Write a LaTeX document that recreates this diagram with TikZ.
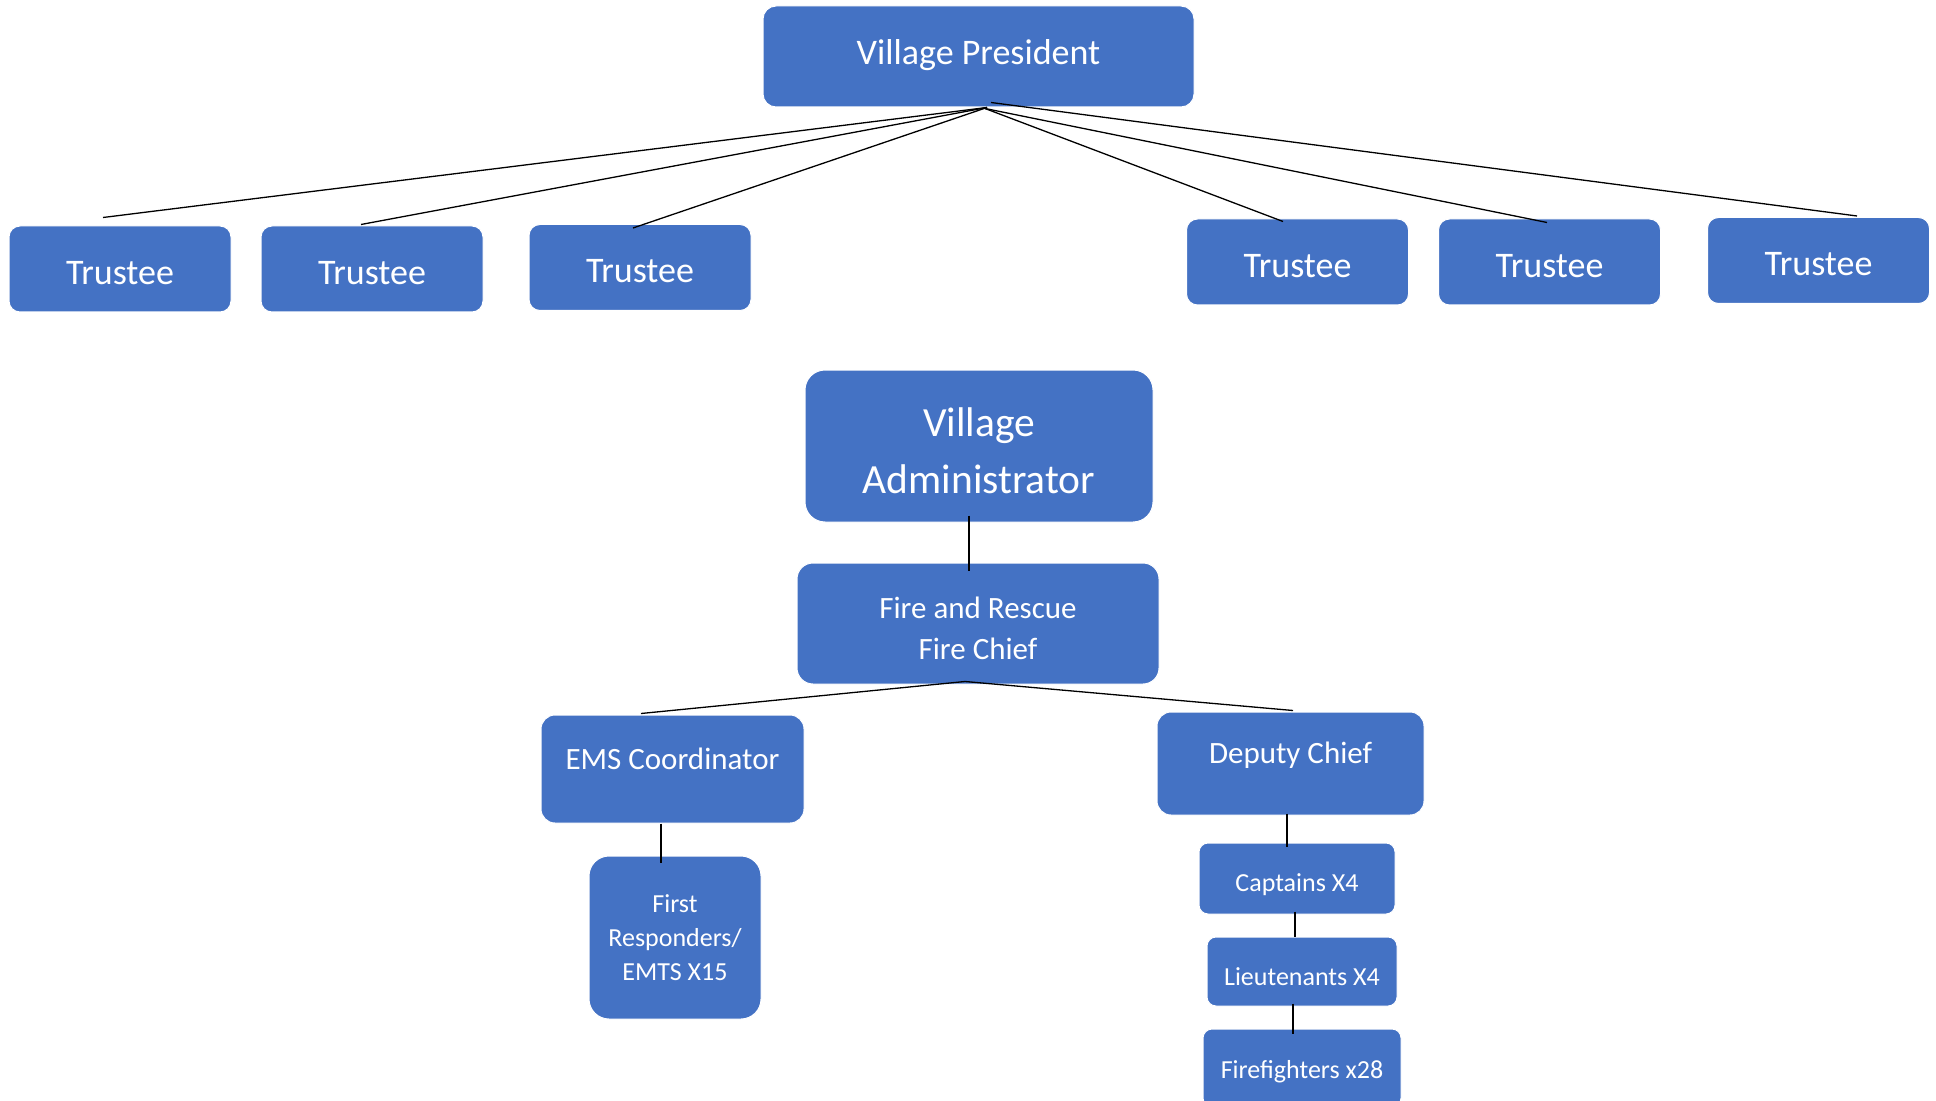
\documentclass[tikz,border=0pt]{standalone}
\usepackage{fontspec}
\setmainfont{Carlito}
\usetikzlibrary{calc}
\definecolor{boxblue}{HTML}{4472C4}
\begin{document}
\begin{tikzpicture}[x=0.5pt,y=-0.5pt,
  box/.style={fill=boxblue, draw=white, line width=0.5pt, text=white, align=center, inner sep=0pt},
  trustee/.style={box, minimum width=111pt, minimum height=43pt, rounded corners=5.5pt,
    font=\fontsize{18}{22}\selectfont, text height=15.5pt, text depth=0pt},
  small/.style={font=\fontsize{13}{17}\selectfont},
  mid/.style={font=\fontsize{15.5}{20.5}\selectfont},
  boxlabel/.style={text=white, align=center, inner sep=0pt},
  conn/.style={draw=black, line width=0.65pt}]
\useasboundingbox (0,0) rectangle (1936,1101);

% top level
\node[box, minimum width=215.5pt, minimum height=50.5pt, rounded corners=6.5pt,
  font=\fontsize{18}{22}\selectfont, text height=8.5pt, text depth=0pt] (pres) at (978.5,56.5) {Village President};

\node[trustee] (t1) at (120,269) {Trustee};
\node[trustee] (t2) at (372,269) {Trustee};
\node[trustee] (t3) at (640,267.5) {Trustee};
\node[trustee] (t4) at (1297.5,262) {Trustee};
\node[trustee] (t5) at (1549.5,262) {Trustee};
\node[trustee] (t6) at (1818.5,260.5) {Trustee};

\draw[conn] ($(pres.south)+(8.5,0)$) -- ($(t1.north)+(-17,-8)$);
\draw[conn] ($(pres.south)+(8.5,0)$) -- ($(t2.north)+(-11,-1)$);
\draw[conn] ($(pres.south)+(8.5,0)$) -- ($(t3.north)+(-7,4)$);
\draw[conn] ($(pres.south)+(6.5,1)$) -- ($(t4.north)+(-14.5,3)$);
\draw[conn] ($(pres.south)+(6.5,1)$) -- ($(t5.north)+(-2.5,4)$);
\draw[conn] ($(pres.south)+(12.5,-5)$) -- ($(t6.north)+(38.5,-1)$);

% administration
\node[box, minimum width=174pt, minimum height=76pt, rounded corners=10pt,
  label={[boxlabel, font=\fontsize{20.75}{28.5}\selectfont, yshift=-2.5pt]center:{Village\\Administrator}}] (admin) at (979,446) {};
\node[box, minimum width=181pt, minimum height=60.5pt, rounded corners=8pt,
  label={[boxlabel, mid, yshift=-2.5pt]center:{Fire and Rescue\\Fire Chief}}] (chief) at (978,623.5) {};
\draw[conn] ($(admin.south)+(-10,-7)$) -- ($(chief.north)+(-9,8)$);

\node[box, mid, minimum width=131.5pt, minimum height=54pt, rounded corners=7pt,
  text height=8pt, text depth=8pt] (ems) at (672.5,769) {EMS Coordinator};
\node[box, mid, minimum width=133.5pt, minimum height=51.5pt, rounded corners=7pt,
  text height=8pt, text depth=8pt] (deputy) at (1290.5,763.5) {Deputy Chief};
\draw[conn] ($(chief.south)+(-13,-3)$) -- ($(ems.north)+(-31.5,-1)$);
\draw[conn] ($(chief.south)+(-13,-3)$) -- ($(deputy.north)+(2.5,-1)$);

\node[box, small, minimum width=86pt, minimum height=81.5pt, rounded corners=10pt] (first) at (675,937.5) {First\\Responders/\\EMTS X15};
\draw[conn] ($(ems.south)+(-11.5,0)$) -- ($(first.north)+(-14,7)$);

\node[box, small, minimum width=98pt, minimum height=35.5pt, rounded corners=4.5pt,
  text height=12.5pt, text depth=0pt] (capt) at (1297,878.5) {Captains X4};
\node[box, small, minimum width=95pt, minimum height=34.5pt, rounded corners=4.5pt,
  text height=13.5pt, text depth=0pt] (lieut) at (1302,971.5) {Lieutenants X4};
\node[box, small, minimum width=99pt, minimum height=39pt, rounded corners=4.5pt,
  text height=10.5pt, text depth=0pt] (ff) at (1302,1068) {Firefighters x28};
\draw[conn] ($(deputy.south)+(-3.5,-2)$) -- ($(capt.north)+(-10,4)$);
\draw[conn] ($(capt.south)+(-2,-3)$) -- ($(lieut.north)+(-7,0)$);
\draw[conn] ($(lieut.south)+(-9,-3)$) -- ($(ff.north)+(-9,5)$);
\end{tikzpicture}
\end{document}
